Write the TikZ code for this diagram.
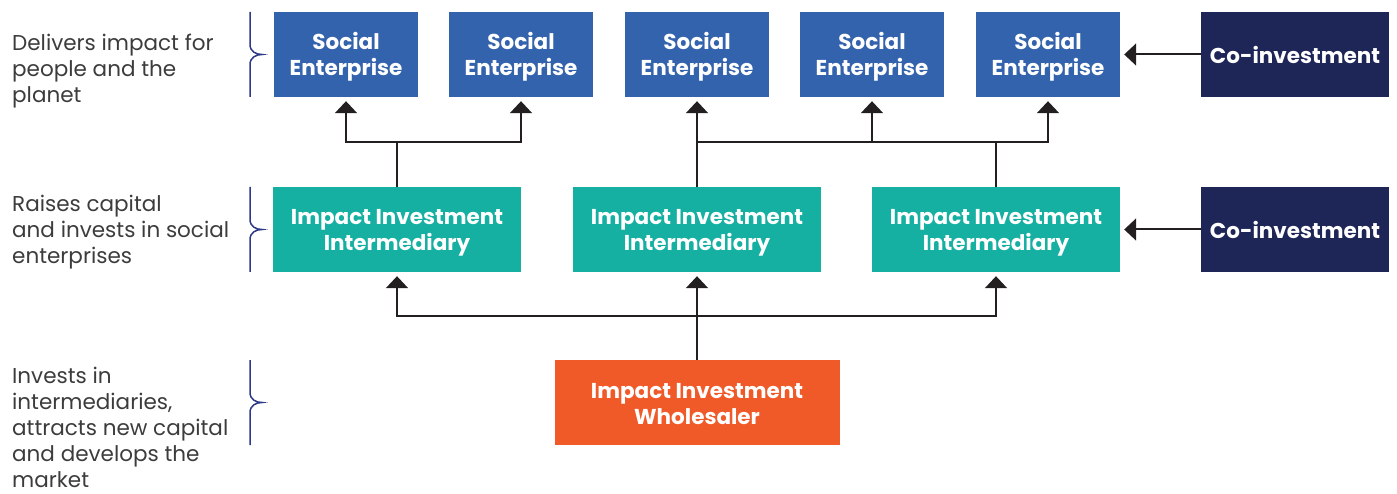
\documentclass[tikz,border=0pt]{standalone}
\usepackage{fontspec}
\setmainfont{Poppins}
\usetikzlibrary{arrows.meta}
\definecolor{seblue}{HTML}{3463AE}
\definecolor{iiteal}{HTML}{15B0A2}
\definecolor{conavy}{HTML}{1E2557}
\definecolor{wsorange}{HTML}{F05A28}
\definecolor{wiregray}{HTML}{231F20}
\definecolor{bracenavy}{HTML}{2E3A87}
\definecolor{notegray}{HTML}{3C3C3C}
\tikzset{
  box/.style          = {minimum width=144pt, minimum height=85pt, inner sep=0pt, align=center,
                         text=white, font=\bfseries\fontsize{21.5}{26}\selectfont},
  twoline/.style      = {box, text height=48pt, text depth=5pt},
  enterprise/.style   = {twoline, fill=seblue},
  intermediary/.style = {twoline, fill=iiteal, minimum width=248pt},
  coinvest/.style     = {box, fill=conavy, minimum width=188pt},
  wholesale/.style    = {twoline, fill=wsorange, minimum width=285pt},
  wire/.style         = {line width=2pt, draw=wiregray},
  line/.style         = {wire, -{Triangle[width=22pt,length=12pt]}, shorten >=4pt},
  note/.style         = {anchor=north west, inner sep=0pt, align=left, text=notegray,
                         font=\fontsize{21.5}{26}\selectfont},
  sidebrace/.style    = {line width=1.5pt, draw=bracenavy},
}
\begin{document}
\begin{tikzpicture}[x=1pt, y=1pt]
    \useasboundingbox (0,0) rectangle (1397,-494);

    % Top row: social enterprises
    \node[enterprise] (se1) at (346,-54.5) {Social\\Enterprise};
    \node[enterprise] (se2) at (521,-54.5) {Social\\Enterprise};
    \node[enterprise] (se3) at (697,-54.5) {Social\\Enterprise};
    \node[enterprise] (se4) at (872,-54.5) {Social\\Enterprise};
    \node[enterprise] (se5) at (1048,-54.5) {Social\\Enterprise};
    \node[coinvest] (co1) at (1295,-54.5) {Co-investment};

    % Middle row: intermediaries
    \node[intermediary] (ii1) at (397,-229.5) {Impact Investment\\Intermediary};
    \node[intermediary] (ii2) at (697,-229.5) {Impact Investment\\Intermediary};
    \node[intermediary] (ii3) at (996,-229.5) {Impact Investment\\Intermediary};
    \node[coinvest] (co2) at (1295,-229.5) {Co-investment};

    % Bottom: wholesaler
    \node[wholesale] (ws) at (697,-402.5) {Impact Investment\\Wholesaler};

    % Bus levels
    \coordinate (upbus) at (0,-142);
    \coordinate (lowbus) at (0,-316);

    % Intermediaries to enterprises
    \draw[wire] (ii1.north) -- (ii1.north |- upbus);
    \draw[line] (ii1.north |- upbus) -| (se1.south);
    \draw[line] (ii1.north |- upbus) -| (se2.south);
    \draw[line] (ii2.north) -- (se3.south);
    \draw[line] (ii2.north |- upbus) -| (se4.south);
    \draw[line] (ii2.north |- upbus) -| (se5.south);
    \draw[wire] (ii3.north) -- (ii3.north |- upbus);

    % Wholesaler to intermediaries
    \draw[line] (ws.north) -- (ii2.south);
    \draw[line] (ws.north |- lowbus) -| (ii1.south);
    \draw[line] (ws.north |- lowbus) -| (ii3.south);

    % Co-investment
    \draw[line] (co1.west) -- (se5.east);
    \draw[line] (co2.west) -- (ii3.east);

    % Side notes
    \node[note] (n1) at (12,-34) {Delivers impact for\\people and the\\planet};
    \node[note] (n2) at (12,-195) {Raises capital\\and invests in social\\enterprises};
    \node[note] (n3) at (12,-367) {Invests in\\intermediaries,\\attracts new capital\\and develops the\\market};

    % Braces
    \foreach \top/\bot in {12/97, 187/272, 360/445} {
      \pgfmathsetmacro{\mid}{(\top+\bot)/2}
      \draw[sidebrace] (250,-\top) -- (250,-\mid+10)
        .. controls (250,-\mid+3) and (256,-\mid) .. (262,-\mid)
        .. controls (256,-\mid) and (250,-\mid-3) .. (250,-\mid-10) -- (250,-\bot);
    }
\end{tikzpicture}
\end{document}
